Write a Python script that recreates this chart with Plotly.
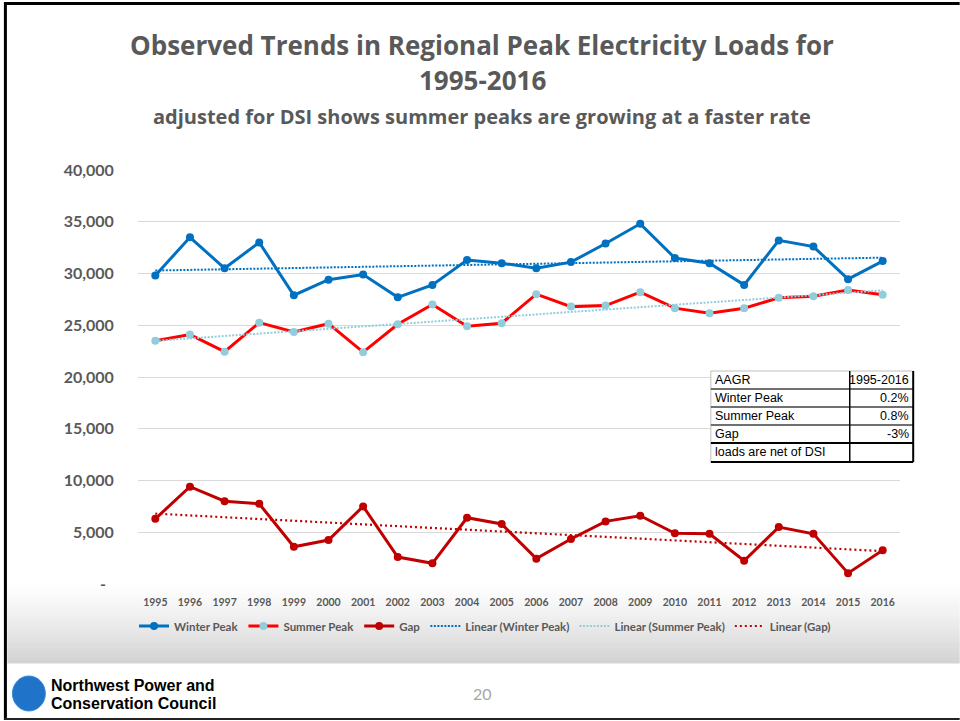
import numpy as np
import plotly.graph_objects as go

# ---- data -------------------------------------------------------------
years = list(range(1995, 2017))
winter_peak = [29800, 33500, 30500, 33000, 27900, 29400, 29900, 27700, 28900, 31300, 31000,
               30500, 31100, 32900, 34800, 31500, 31000, 28900, 33200, 32600, 29450, 31200]
summer_peak = [23500, 24100, 22450, 25250, 24350, 25150, 22400, 25100, 27000, 24900, 25200,
               28000, 26800, 26900, 28200, 26650, 26150, 26650, 27650, 27800, 28400, 27950]
gap = [6300, 9400, 8000, 7750, 3600, 4250, 7500, 2600, 2000, 6400, 5800,
       2450, 4350, 6050, 6600, 4900, 4850, 2250, 5500, 4850, 1050, 3250]

y_tickvals = [0, 5000, 10000, 15000, 20000, 25000, 30000, 35000, 40000]
y_ticktext = ["-\u00a0\u00a0", "5,000", "10,000", "15,000", "20,000", "25,000", "30,000", "35,000", "40,000"]

table_labels = ["AAGR", "Winter Peak", "Summer Peak", "Gap", "loads are net of DSI"]
table_values = ["1995-2016", "0.2%", "0.8%", "-3%", ""]

title_line1 = "Observed Trends in Regional Peak Electricity Loads for"
title_line2 = "1995-2016"
subtitle = "adjusted for DSI shows summer peaks are growing at a faster rate"

# ---- colours ----------------------------------------------------------
WINTER = "#0070C0"
SUMMER_LINE = "#FF0000"
SUMMER_MARK = "#92CDDC"
GAP = "#C00000"
TEXT_GRAY = "#595959"
GRID = "#D9D9D9"


def linear_trend(vals):
    idx = np.arange(len(vals))
    slope, icpt = np.polyfit(idx, vals, 1)
    return list(slope * idx + icpt)


fig = go.Figure()

fig.add_trace(go.Scatter(x=years, y=winter_peak, name="Winter Peak", mode="lines+markers",
                         line=dict(color=WINTER, width=3),
                         marker=dict(color=WINTER, size=8)))
fig.add_trace(go.Scatter(x=years, y=summer_peak, name="Summer Peak", mode="lines+markers",
                         line=dict(color=SUMMER_LINE, width=3),
                         marker=dict(color=SUMMER_MARK, size=8)))
fig.add_trace(go.Scatter(x=years, y=gap, name="Gap", mode="lines+markers",
                         line=dict(color=GAP, width=3),
                         marker=dict(color=GAP, size=8)))
fig.add_trace(go.Scatter(x=years, y=linear_trend(winter_peak), name="Linear (Winter Peak)",
                         mode="lines", line=dict(color=WINTER, width=2, dash="2px,1.5px")))
fig.add_trace(go.Scatter(x=years, y=linear_trend(summer_peak), name="Linear (Summer Peak)",
                         mode="lines", line=dict(color=SUMMER_MARK, width=2, dash="2px,1.5px")))
fig.add_trace(go.Scatter(x=years, y=linear_trend(gap), name="Linear (Gap)",
                         mode="lines", line=dict(color=GAP, width=2.2, dash="2px,3px")))

# plot-area pixel box, used to place decorations in paper coordinates
L, R, T, B = 137.7, 900.3, 170.0, 584.0


def px_x(x):
    return (x - L) / (R - L)


def px_y(y):
    return (B - y) / (B - T)


shapes = []
annotations = []

# chart-area gradient band under the axis labels / legend
n_strips = 40
top_band, bot_band = 580.0, 663.0
h = (bot_band - top_band) / n_strips
for i in range(n_strips):
    t = (i + 0.5) / n_strips
    g = int(round(255 - 45 * t ** 1.3))
    shapes.append(dict(type="rect", xref="paper", yref="paper", layer="below",
                       x0=px_x(7), x1=px_x(960), y0=px_y(top_band + i * h), y1=px_y(top_band + (i + 1) * h + 0.6),
                       line=dict(width=0), fillcolor=f"rgb({g},{g},{g})"))

# slide frame (left, top, bottom)
shapes.append(dict(type="line", xref="paper", yref="paper", x0=px_x(5), x1=px_x(5),
                   y0=px_y(2), y1=px_y(720), line=dict(color="#000000", width=3)))
shapes.append(dict(type="line", xref="paper", yref="paper", x0=px_x(4), x1=px_x(960),
                   y0=px_y(3.5), y1=px_y(3.5), line=dict(color="#000000", width=3)))
shapes.append(dict(type="line", xref="paper", yref="paper", x0=px_x(4), x1=px_x(960),
                   y0=px_y(719), y1=px_y(719), line=dict(color="#222222", width=2)))

# titles
annotations.append(dict(text=title_line1, xref="paper", yref="paper",
                        x=px_x(482), y=px_y(45), showarrow=False, xanchor="center", yanchor="middle",
                        font=dict(family="Open Sans", size=26, weight="bold", color=TEXT_GRAY)))
annotations.append(dict(text=title_line2, xref="paper", yref="paper",
                        x=px_x(482), y=px_y(80), showarrow=False, xanchor="center", yanchor="middle",
                        font=dict(family="Open Sans", size=26, weight="bold", color=TEXT_GRAY)))
annotations.append(dict(text=subtitle, xref="paper", yref="paper",
                        x=px_x(482), y=px_y(116), showarrow=False, xanchor="center", yanchor="middle",
                        font=dict(family="Open Sans", size=20, weight="bold", color=TEXT_GRAY)))

# AAGR summary table
tbl_x0, tbl_xm, tbl_x1 = 711.0, 850.0, 913.5
row_edges = [371, 389, 407, 425, 443, 462]
shapes.append(dict(type="rect", xref="paper", yref="paper", x0=px_x(tbl_x0), x1=px_x(tbl_x1),
                   y0=px_y(row_edges[0]), y1=px_y(row_edges[-1]), fillcolor="#FFFFFF",
                   line=dict(width=0)))
shapes.append(dict(type="line", xref="paper", yref="paper", x0=px_x(tbl_x0), x1=px_x(tbl_x1),
                   y0=px_y(row_edges[0]), y1=px_y(row_edges[0]), line=dict(color="#BFBFBF", width=1)))
shapes.append(dict(type="line", xref="paper", yref="paper", x0=px_x(tbl_x0), x1=px_x(tbl_x0),
                   y0=px_y(row_edges[0]), y1=px_y(row_edges[-1]), line=dict(color="#BFBFBF", width=1)))
for k, ye in enumerate(row_edges[1:]):
    heavy = k >= 3
    shapes.append(dict(type="line", xref="paper", yref="paper", x0=px_x(tbl_x0), x1=px_x(tbl_x1),
                       y0=px_y(ye), y1=px_y(ye),
                       line=dict(color="#000000" if heavy else "#404040", width=2 if heavy else 1.3)))
shapes.append(dict(type="line", xref="paper", yref="paper", x0=px_x(tbl_xm), x1=px_x(tbl_xm),
                   y0=px_y(row_edges[0]), y1=px_y(row_edges[-1]), line=dict(color="#000000", width=1.5)))
shapes.append(dict(type="line", xref="paper", yref="paper", x0=px_x(tbl_x1), x1=px_x(tbl_x1),
                   y0=px_y(row_edges[0]), y1=px_y(row_edges[-1]), line=dict(color="#000000", width=2)))
for k, (lab, val) in enumerate(zip(table_labels, table_values)):
    yc = (row_edges[k] + row_edges[k + 1]) / 2
    annotations.append(dict(text=lab, xref="paper", yref="paper", x=px_x(tbl_x0 + 2), y=px_y(yc),
                            showarrow=False, xanchor="left", yanchor="middle",
                            font=dict(family="Liberation Sans", size=12.5, color="#000000")))
    if val:
        annotations.append(dict(text=val, xref="paper", yref="paper", x=px_x(tbl_x1 - 2), y=px_y(yc),
                                showarrow=False, xanchor="right", yanchor="middle",
                                font=dict(family="Liberation Sans", size=12.5, color="#000000")))

# footer: logo and page number
shapes.append(dict(type="circle", xref="paper", yref="paper", x0=px_x(12), x1=px_x(45),
                   y0=px_y(676), y1=px_y(711), fillcolor="#1F73C8", line=dict(color="#3A8AD8", width=1)))
annotations.append(dict(text="Northwest Power and", xref="paper", yref="paper",
                        x=px_x(49), y=px_y(685), showarrow=False, xanchor="left", yanchor="middle",
                        font=dict(family="Liberation Sans", size=16, weight="bold", color="#000000")))
annotations.append(dict(text="Conservation Council", xref="paper", yref="paper",
                        x=px_x(49), y=px_y(703), showarrow=False, xanchor="left", yanchor="middle",
                        font=dict(family="Liberation Sans", size=16, weight="bold", color="#000000")))
annotations.append(dict(text="20", xref="paper", yref="paper",
                        x=px_x(482), y=px_y(693), showarrow=False, xanchor="center", yanchor="middle",
                        font=dict(family="Lato", size=16, color="#A6A6A6")))

fig.update_layout(
    width=960, height=721,
    margin=dict(l=L, r=960 - R, t=T, b=721 - B, pad=0),
    paper_bgcolor="#FFFFFF",
    plot_bgcolor="rgba(0,0,0,0)",
    showlegend=True,
    legend=dict(orientation="h", x=px_x(485), xanchor="center", y=px_y(626), yanchor="middle",
                bgcolor="rgba(0,0,0,0)",
                font=dict(family="Lato", size=11.5, weight="bold", color=TEXT_GRAY),
                itemwidth=30, tracegroupgap=0),
    shapes=shapes,
    annotations=annotations,
    xaxis=dict(range=[1994.5, 2016.5], tickmode="array", tickvals=years,
               ticktext=[str(y) for y in years], showgrid=False, zeroline=False,
               showline=False, ticks="outside", ticklen=8, tickcolor="rgba(0,0,0,0)",
               tickfont=dict(family="Lato", size=10.5, weight="bold", color=TEXT_GRAY), fixedrange=True),
    yaxis=dict(range=[0, 40000], tickmode="array", tickvals=y_tickvals,
               ticktext=y_ticktext, showgrid=True, gridcolor=GRID,
               gridwidth=1, zeroline=False, showline=False, ticks="outside", ticklen=20,
               tickcolor="rgba(0,0,0,0)",
               tickfont=dict(family="Lato", size=16, weight="bold", color=TEXT_GRAY), fixedrange=True),
)

fig.write_html("out.html")
